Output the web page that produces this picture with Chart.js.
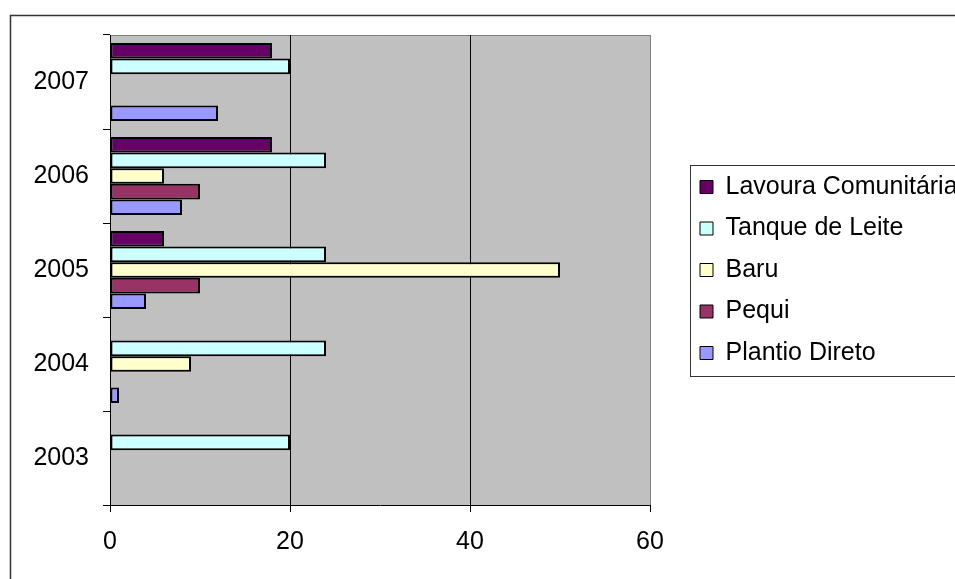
<!DOCTYPE html>
<html>
<head>
<meta charset="utf-8">
<script src="https://cdn.jsdelivr.net/npm/chart.js@4.4.1/dist/chart.umd.min.js"></script>
<style>
  html, body { margin: 0; padding: 0; background: #fff; overflow: hidden; width: 955px; height: 579px; }
</style>
</head>
<body>
<canvas id="grafico" width="1000" height="579"></canvas>
<script>
// dados do gráfico
const anos = ['2003', '2004', '2005', '2006', '2007'];
const lavouraComunitaria = [null, null, 6, 18, 18];
const tanqueDeLeite = [20, 24, 24, 24, 20];
const baru = [null, 9, 50, 6, null];
const pequi = [null, null, 10, 10, null];
const plantioDireto = [null, 1, 4, 8, 12];
const escalaX = { min: 0, max: 60, passo: 20 };

// fundo cinza, moldura do gráfico e da legenda
const molduras = {
  id: 'molduras',
  beforeDraw(chart) {
    const { ctx, chartArea: a } = chart;
    ctx.save();
    ctx.fillStyle = '#fff';
    ctx.fillRect(0, 0, chart.width, chart.height);
    ctx.strokeStyle = '#333';
    ctx.lineWidth = 1.5;
    ctx.strokeRect(10.5, 15.5, chart.width + 20, chart.height + 20);

    ctx.fillStyle = '#c0c0c0';
    ctx.fillRect(a.left, a.top, a.right - a.left, a.bottom - a.top);
    ctx.strokeStyle = '#808080';
    ctx.lineWidth = 1;
    ctx.beginPath();
    ctx.moveTo(a.left, a.top + 0.5);
    ctx.lineTo(a.right + 0.5, a.top + 0.5);
    ctx.lineTo(a.right + 0.5, a.bottom);
    ctx.stroke();

    const hb = chart.legend && chart.legend.legendHitBoxes;
    if (hb && hb.length) {
      const ult = hb[hb.length - 1];
      const topo = Math.round(hb[0].top - 10) + 0.5;
      const base = Math.round(ult.top + ult.height + 10) + 0.5;
      const esq = Math.round(hb[0].left - 10) + 0.5;
      ctx.strokeStyle = '#333';
      ctx.strokeRect(esq, topo, chart.width + 20, base - topo);
    }
    ctx.restore();
  }
};

Chart.defaults.font.family = "'Liberation Sans', Arial, sans-serif";
Chart.defaults.font.size = 25;
Chart.defaults.color = '#000';

const serie = (label, data, cor) => ({
  label: label,
  data: data,
  backgroundColor: cor,
  borderColor: '#000',
  borderWidth: 2,
  borderSkipped: false,
  categoryPercentage: 0.83,
  barPercentage: 1.0
});

new Chart(document.getElementById('grafico'), {
  type: 'bar',
  data: {
    labels: anos,
    datasets: [
      serie('Lavoura Comunitária', lavouraComunitaria, '#660066'),
      serie('Tanque de Leite', tanqueDeLeite, '#ccffff'),
      serie('Baru', baru, '#ffffcc'),
      serie('Pequi', pequi, '#993366'),
      serie('Plantio Direto', plantioDireto, '#9999ff')
    ]
  },
  options: {
    indexAxis: 'y',
    responsive: false,
    animation: false,
    layout: { padding: { top: 35, left: 0, right: 36.5, bottom: 0 } },
    scales: {
      y: {
        type: 'category',
        reverse: true,
        offset: true,
        grid: { display: true, drawOnChartArea: false, offset: true, tickLength: 7, color: '#000' },
        border: { color: '#000', width: 1 },
        ticks: { padding: 14, autoSkip: false },
        afterFit(s) { s.width = 110; }
      },
      x: {
        min: escalaX.min,
        max: escalaX.max,
        grid: {
          color: (c) => (c.tick && c.tick.value === escalaX.max ? '#808080' : '#000'),
          tickColor: '#000',
          tickLength: 7
        },
        border: { color: '#000', width: 1 },
        ticks: { stepSize: escalaX.passo, padding: 15 },
        afterFit(s) { s.height = 74; }
      },
      folga: {
        type: 'linear',
        position: 'right',
        display: true,
        grid: { display: false },
        border: { display: false },
        ticks: { display: false },
        afterFit(s) { s.width = 33.5; }
      }
    },
    plugins: {
      legend: {
        display: true,
        position: 'right',
        fullSize: false,
        maxWidth: 280,
        labels: {
          boxWidth: 13,
          boxHeight: 13,
          padding: 16.5,
          generateLabels(chart) {
            return Chart.defaults.plugins.legend.labels.generateLabels(chart)
              .map(it => Object.assign(it, { lineWidth: 1 }));
          }
        }
      },
      tooltip: { enabled: false }
    }
  },
  plugins: [molduras]
});
</script>
</body>
</html>
